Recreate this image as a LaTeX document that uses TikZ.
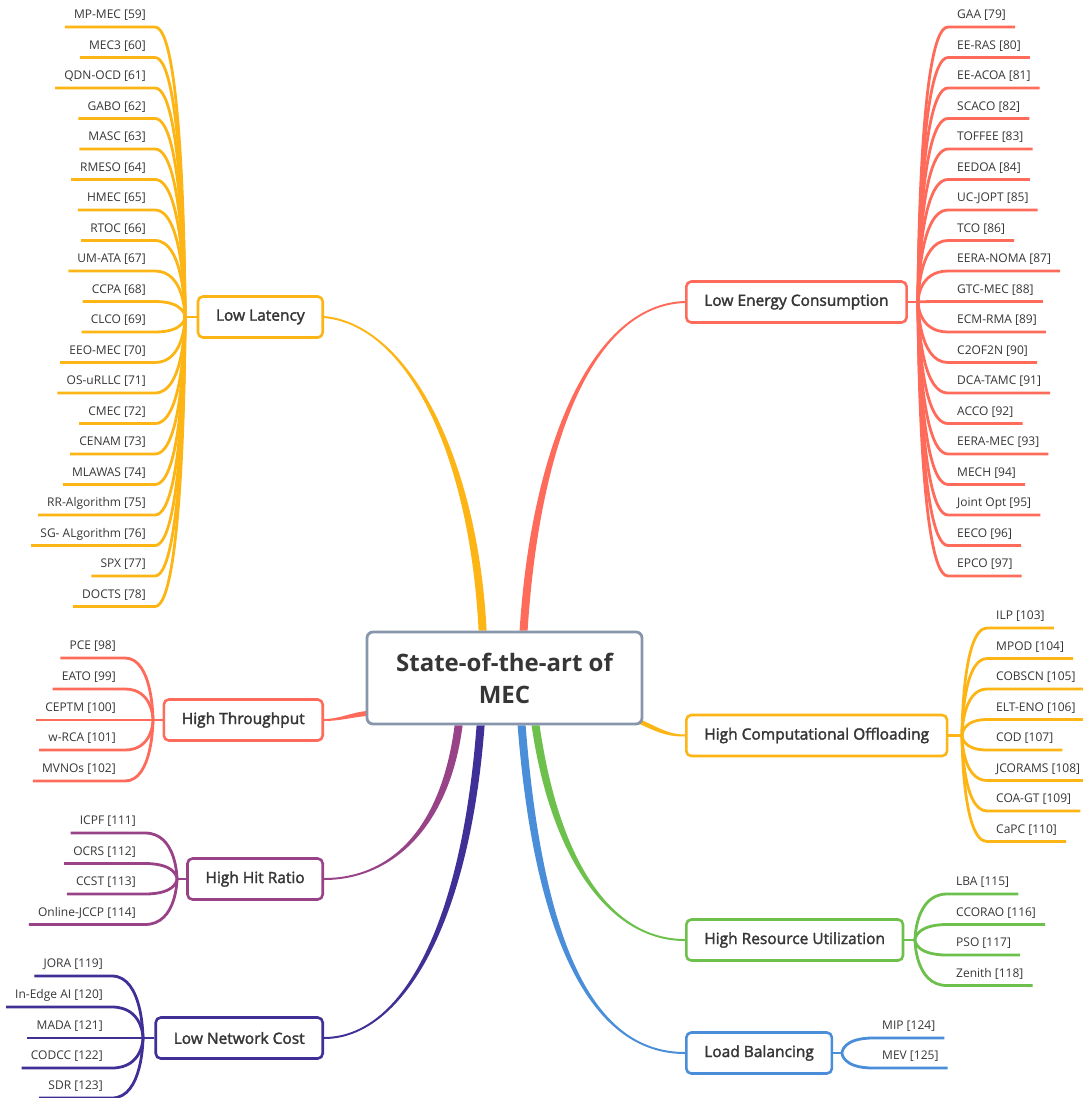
\documentclass[tikz,border=0pt]{standalone}
\usepackage{fontspec}
\setmainfont{Open Sans}
\newfontfamily\topicfont[FakeBold=2]{Open Sans}
\usetikzlibrary{calc,backgrounds}
\definecolor{txt}{HTML}{363636}
\definecolor{mmorange}{HTML}{FDB515}
\definecolor{mmred}{HTML}{FF6B5A}
\definecolor{mmpurple}{HTML}{984388}
\definecolor{mmindigo}{HTML}{3E3096}
\definecolor{mmgreen}{HTML}{6CC04B}
\definecolor{mmblue}{HTML}{4A8ED9}
\definecolor{mmgray}{HTML}{8896AB}
\colorlet{br}{mmorange}
\tikzset{
  wire/.style  = {draw=br, line width=2.8pt},
  leaf/.style  = {font=\fontsize{12}{14}\selectfont, text=txt, inner xsep=9pt,
                  inner ysep=8pt, text depth=0pt},
  topic/.style = {draw=br, fill=white, line width=2.6pt, rounded corners=5pt,
                  minimum height=41pt, inner xsep=18pt, text=txt,
                  font=\topicfont\fontsize{15.5}{18}\selectfont},
  root/.style  = {draw=mmgray, fill=white, line width=2.8pt, rounded corners=6pt,
                  minimum width=275pt, minimum height=92pt, align=center,
                  text=txt, font=\bfseries\fontsize{24}{32}\selectfont},
}
% leaf on the left / right side, wired to a hub coordinate
\newcommand\leafL[5]{%
  \node[leaf, anchor=south east] (#1) at (#2,#3) {#5};
  \draw[wire] (#1.south west) -- (#1.south east)
    .. controls (#4 |- #1.south east) and (#4) .. (#4);}
\newcommand\leafR[5]{%
  \node[leaf, anchor=south west] (#1) at (#2,#3) {#5};
  \draw[wire] (#1.south east) -- (#1.south west)
    .. controls (#4 |- #1.south west) and (#4) .. (#4);}
% tapered main branch
\newcommand\taper[7]{%
  \fill[#1] ($#2+#6$) .. controls ($#3+#6$) and ($#4+#7$) .. ($#5+#7$)
    -- ($#5-#7$) .. controls ($#4-#7$) and ($#3-#6$) .. ($#2-#6$) -- cycle;}

\begin{document}
\begin{tikzpicture}[x=1pt, y=-1pt]
  \useasboundingbox (0,0) rectangle (1082,1098);
  \node[root] (c) at (504.5,678) {State-of-the-art of\\MEC};

  % Low Latency
  \begin{scope}
    \colorlet{br}{mmorange}
    \node[topic, anchor=east] (ll) at (324,317) {Low Latency};
    \coordinate (hll) at (185,317);
    \draw[wire] (hll) -- (ll.west);
    \leafL{ll1}{155}{27}{hll}{MP-MEC [59]}
    \leafL{ll2}{155}{57.5}{hll}{MEC3 [60]}
    \leafL{ll3}{155}{88}{hll}{QDN-OCD [61]}
    \leafL{ll4}{155}{118.5}{hll}{GABO [62]}
    \leafL{ll5}{155}{149}{hll}{MASC [63]}
    \leafL{ll6}{155}{179.5}{hll}{RMESO [64]}
    \leafL{ll7}{155}{210}{hll}{HMEC [65]}
    \leafL{ll8}{155}{240.5}{hll}{RTOC [66]}
    \leafL{ll9}{155}{271}{hll}{UM-ATA [67]}
    \leafL{ll10}{155}{301.5}{hll}{CCPA [68]}
    \leafL{ll11}{155}{332}{hll}{CLCO [69]}
    \leafL{ll12}{155}{362.5}{hll}{EEO-MEC [70]}
    \leafL{ll13}{155}{393}{hll}{OS-uRLLC [71]}
    \leafL{ll14}{155}{423.5}{hll}{CMEC [72]}
    \leafL{ll15}{155}{454}{hll}{CENAM [73]}
    \leafL{ll16}{155}{484.5}{hll}{MLAWAS [74]}
    \leafL{ll17}{155}{515}{hll}{RR-Algorithm [75]}
    \leafL{ll18}{155}{545.5}{hll}{SG- ALgorithm [76]}
    \leafL{ll19}{155}{576}{hll}{SPX [77]}
    \leafL{ll20}{155}{606.5}{hll}{DOCTS [78]}
  \end{scope}

  % Low Energy Consumption
  \begin{scope}
    \colorlet{br}{mmred}
    \node[topic, anchor=west] (le) at (685,302) {Low Energy Consumption};
    \coordinate (hle) at (918,302);
    \draw[wire] (le.east) -- (hle);
    \leafR{le1}{948}{27}{hle}{GAA [79]}
    \leafR{le2}{948}{57.5}{hle}{EE-RAS [80]}
    \leafR{le3}{948}{88}{hle}{EE-ACOA [81]}
    \leafR{le4}{948}{118.5}{hle}{SCACO [82]}
    \leafR{le5}{948}{149}{hle}{TOFFEE [83]}
    \leafR{le6}{948}{179.5}{hle}{EEDOA [84]}
    \leafR{le7}{948}{210}{hle}{UC-JOPT [85]}
    \leafR{le8}{948}{240.5}{hle}{TCO [86]}
    \leafR{le9}{948}{271}{hle}{EERA-NOMA [87]}
    \leafR{le10}{948}{301.5}{hle}{GTC-MEC [88]}
    \leafR{le11}{948}{332}{hle}{ECM-RMA [89]}
    \leafR{le12}{948}{362.5}{hle}{C2OF2N [90]}
    \leafR{le13}{948}{393}{hle}{DCA-TAMC [91]}
    \leafR{le14}{948}{423.5}{hle}{ACCO [92]}
    \leafR{le15}{948}{454}{hle}{EERA-MEC [93]}
    \leafR{le16}{948}{484.5}{hle}{MECH [94]}
    \leafR{le17}{948}{515}{hle}{Joint Opt [95]}
    \leafR{le18}{948}{545.5}{hle}{EECO [96]}
    \leafR{le19}{948}{576}{hle}{EPCO [97]}
  \end{scope}

  % High Throughput
  \begin{scope}
    \colorlet{br}{mmred}
    \node[topic, anchor=east] (ht) at (324,720) {High Throughput};
    \coordinate (hht) at (153,720);
    \draw[wire] (hht) -- (ht.west);
    \leafL{ht1}{125}{658}{hht}{PCE [98]}
    \leafL{ht2}{125}{689}{hht}{EATO [99]}
    \leafL{ht3}{125}{720}{hht}{CEPTM [100]}
    \leafL{ht4}{125}{750}{hht}{w-RCA [101]}
    \leafL{ht5}{125}{781}{hht}{MVNOs [102]}
  \end{scope}

  % High Computational Offloading
  \begin{scope}
    \colorlet{br}{mmorange}
    \node[topic, anchor=west] (co) at (685,735.5) {High Computational Offloading};
    \coordinate (hco) at (962,735.5);
    \draw[wire] (co.east) -- (hco);
    \leafR{co1}{987}{628}{hco}{ILP [103]}
    \leafR{co2}{987}{658.5}{hco}{MPOD [104]}
    \leafR{co3}{987}{689}{hco}{COBSCN [105]}
    \leafR{co4}{987}{719.5}{hco}{ELT-ENO [106]}
    \leafR{co5}{987}{750}{hco}{COD [107]}
    \leafR{co6}{987}{780.5}{hco}{JCORAMS [108]}
    \leafR{co7}{987}{811}{hco}{COA-GT [109]}
    \leafR{co8}{987}{841.5}{hco}{CaPC [110]}
  \end{scope}

  % High Hit Ratio
  \begin{scope}
    \colorlet{br}{mmpurple}
    \node[topic, anchor=east] (hh) at (324,879) {High Hit Ratio};
    \coordinate (hhh) at (177,879);
    \draw[wire] (hhh) -- (hh.west);
    \leafL{hh1}{145}{833}{hhh}{ICPF [111]}
    \leafL{hh2}{145}{863.5}{hhh}{OCRS [112]}
    \leafL{hh3}{145}{894}{hhh}{CCST [113]}
    \leafL{hh4}{145}{924.5}{hhh}{Online-JCCP [114]}
  \end{scope}

  % High Resource Utilization
  \begin{scope}
    \colorlet{br}{mmgreen}
    \node[topic, anchor=west] (ru) at (685,940) {High Resource Utilization};
    \coordinate (hru) at (915,940);
    \draw[wire] (ru.east) -- (hru);
    \leafR{ru1}{947}{894}{hru}{LBA [115]}
    \leafR{ru2}{947}{924.5}{hru}{CCORAO [116]}
    \leafR{ru3}{947}{955}{hru}{PSO [117]}
    \leafR{ru4}{947}{985.5}{hru}{Zenith [118]}
  \end{scope}

  % Low Network Cost
  \begin{scope}
    \colorlet{br}{mmindigo}
    \node[topic, anchor=east] (nc) at (324,1038) {Low Network Cost};
    \coordinate (hnc) at (143,1038);
    \draw[wire] (hnc) -- (nc.west);
    \leafL{nc1}{112}{976}{hnc}{JORA [119]}
    \leafL{nc2}{112}{1007}{hnc}{In-Edge AI [120]}
    \leafL{nc3}{112}{1038}{hnc}{MADA [121]}
    \leafL{nc4}{112}{1068}{hnc}{CODCC [122]}
    \leafL{nc5}{112}{1098}{hnc}{SDR [123]}
  \end{scope}

  % Load Balancing
  \begin{scope}
    \colorlet{br}{mmblue}
    \node[topic, anchor=west] (lb) at (685,1053) {Load Balancing};
    \coordinate (hlb) at (842,1053);
    \draw[wire] (lb.east) -- (hlb);
    \leafR{lb1}{873}{1038}{hlb}{MIP [124]}
    \leafR{lb2}{873}{1068}{hlb}{MEV [125]}
  \end{scope}

  % main branches, behind the boxes
  \coordinate (sll) at ($(c.north west)+(117,0)$);
  \coordinate (sle) at ($(c.north west)+(158,0)$);
  \coordinate (sht) at ($(c.south west)+(2,-12)$);
  \coordinate (shh) at ($(c.south west)+(93,0)$);
  \coordinate (snc) at ($(c.south west)+(115,0)$);
  \coordinate (slb) at ($(c.south west)+(156,0)$);
  \coordinate (sru) at ($(c.south west)+(170,0)$);
  \coordinate (sco) at ($(c.south east)+(-4,-4)$);
  \begin{scope}[on background layer]
    \taper{mmorange}{(sll)}{(474,460)}{(410,325)}{(ll.east)}{(4,0)}{(0,-1)}
    \taper{mmred}{(sle)}{(535,450)}{(590,305)}{(le.west)}{(-4,0)}{(0,-1)}
    \taper{mmred}{(sht)}{(350,715)}{(340,720)}{(ht.east)}{(0,2.5)}{(0,1)}
    \taper{mmpurple}{(shh)}{(445,830)}{(390,879)}{(hh.east)}{(4,0)}{(0,1)}
    \taper{mmindigo}{(snc)}{(465,930)}{(400,1038)}{(nc.east)}{(4,0)}{(0,1)}
    \taper{mmblue}{(slb)}{(540,960)}{(600,1053)}{(lb.west)}{(-4,0)}{(0,1)}
    \taper{mmgreen}{(sru)}{(555,860)}{(610,940)}{(ru.west)}{(-4,0)}{(0,1)}
    \taper{mmorange}{(sco)}{(662,732)}{(670,735.5)}{(co.west)}{(0,2.5)}{(0,1)}
  \end{scope}
\end{tikzpicture}
\end{document}
